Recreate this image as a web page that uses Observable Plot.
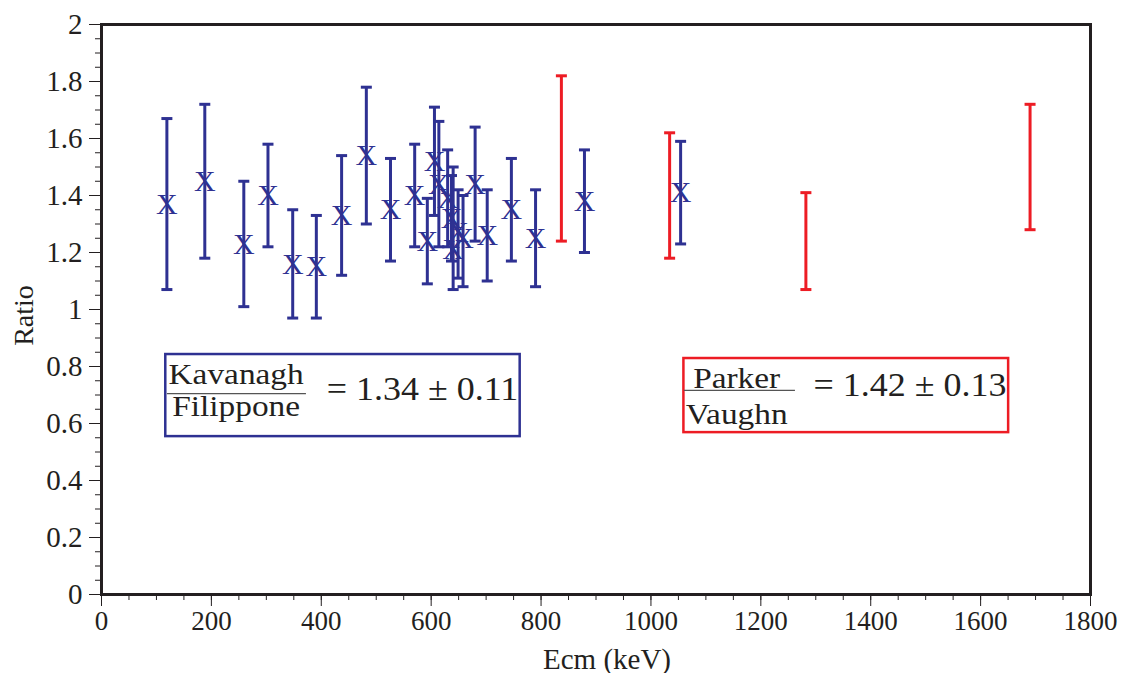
<!DOCTYPE html>
<html>
<head>
<meta charset="utf-8">
<script src="https://cdn.jsdelivr.net/npm/d3@7"></script>
<script src="https://cdn.jsdelivr.net/npm/@observablehq/plot@0.6"></script>
<style>
  html, body { margin: 0; padding: 0; background: #fff; }
  #chart { width: 1123px; height: 673px; }
</style>
</head>
<body>
<div id="chart"></div>
<script>
// Kavanagh / Filippone ratios (blue, with markers)
const kavEcm   = [119, 188, 259, 303, 348, 391, 437, 482, 526, 570, 593, 606, 614, 630, 637, 640, 649, 658, 680, 702, 746, 790, 879, 1054];
const kavRatio = [1.37, 1.45, 1.23, 1.40, 1.16, 1.15, 1.33, 1.54, 1.35, 1.40, 1.24, 1.52, 1.44, 1.39, 1.32, 1.21, 1.27, 1.25, 1.44, 1.26, 1.35, 1.25, 1.38, 1.41];
const kavLow   = [1.07, 1.18, 1.01, 1.22, 0.97, 0.97, 1.12, 1.30, 1.17, 1.22, 1.09, 1.33, 1.22, 1.22, 1.17, 1.07, 1.11, 1.08, 1.24, 1.10, 1.17, 1.08, 1.20, 1.23];
const kavHigh  = [1.67, 1.72, 1.45, 1.58, 1.35, 1.33, 1.54, 1.78, 1.53, 1.58, 1.39, 1.71, 1.66, 1.56, 1.47, 1.50, 1.42, 1.40, 1.64, 1.42, 1.53, 1.42, 1.56, 1.59];

// Parker / Vaughn ratio ranges (red, bars only)
const parEcm  = [837, 1034, 1282, 1690];
const parLow  = [1.24, 1.18, 1.07, 1.28];
const parHigh = [1.82, 1.62, 1.41, 1.72];

// Axis ticks and labels
const xTicks = [0, 200, 400, 600, 800, 1000, 1200, 1400, 1600, 1800];
const xTickLabels = ["0", "200", "400", "600", "800", "1000", "1200", "1400", "1600", "1800"];
const xMinor = d3.range(0, 1801, 50);
const yTicks = [0, 0.2, 0.4, 0.6, 0.8, 1, 1.2, 1.4, 1.6, 1.8, 2];
const yTickLabels = ["0", "0.2", "0.4", "0.6", "0.8", "1", "1.2", "1.4", "1.6", "1.8", "2"];
const yMinor = d3.range(0, 41).map(i => i * 0.05);

// Ratio summaries shown in the boxed notes
const notes = [
  {num: "Kavanagh", den: "Filippone", text: "= 1.34 ± 0.11", color: "#2e3192"},
  {num: "Parker",   den: "Vaughn",    text: "= 1.42 ± 0.13", color: "#ed1c24"}
];

const blue = "#2e3192";
const red = "#ed1c24";
const ink = "#231f20";
const serif = "'Liberation Serif', 'Times New Roman', serif";

const kav = kavEcm.map((e, i) => ({e, r: kavRatio[i], lo: kavLow[i], hi: kavHigh[i]}));
const par = parEcm.map((e, i) => ({e, lo: parLow[i], hi: parHigh[i]}));

// Horizontal cap drawn as a symbol so its width is in pixels
const cap = {
  draw(ctx, size) {
    const h = Math.sqrt(size / Math.PI);
    ctx.moveTo(-h, 0);
    ctx.lineTo(h, 0);
  }
};

// Placement of the two note boxes, in data units
const boxes = [
  {x1: 117, x2: 762, y1: 0.554, y2: 0.842, cx: 245, lineX1: 120, lineX2: 373, lineY: 0.705, numY: 0.740, denY: 0.625, eqX: 410, eqY: 0.681},
  {x1: 1060, x2: 1651, y1: 0.568, y2: 0.828, cx: 1156, lineX1: 1061, lineX2: 1263, lineY: 0.716, numY: 0.726, denY: 0.600, eqX: 1296, eqY: 0.698}
].map((b, i) => ({...b, ...notes[i]}));

const plot = Plot.plot({
  width: 1123,
  height: 673,
  marginLeft: 101,
  marginRight: 33,
  marginTop: 24,
  marginBottom: 79,
  x: {domain: [0, 1800]},
  y: {domain: [0, 2]},
  style: {fontFamily: serif, fontSize: "26px", color: ink, background: "#fff"},
  marks: [
    // minor and major ticks
    Plot.axisX({ticks: xMinor, tickSize: 6, stroke: ink, fill: "none", label: null}),
    Plot.axisX({ticks: xTicks, tickSize: 12, tickPadding: 4, stroke: ink, fill: ink, label: null, fontSize: 27,
      tickFormat: d => xTickLabels[xTicks.indexOf(d)]}),
    Plot.axisY({ticks: yMinor, tickSize: 6, stroke: ink, fill: "none", label: null}),
    Plot.axisY({ticks: yTicks, tickSize: 12, tickPadding: 7, stroke: ink, fill: ink, label: null, fontSize: 29,
      tickFormat: d => yTickLabels[yTicks.findIndex(t => Math.abs(t - d) < 1e-9)]}),
    Plot.text(["Ecm (keV)"], {frameAnchor: "bottom", dy: 74, dx: 11, lineAnchor: "bottom", fontSize: 29, fill: ink}),
    Plot.text(["Ratio"], {frameAnchor: "left", textAnchor: "middle", rotate: -90, dx: -69, dy: 6, lineAnchor: "bottom", fontSize: 28, fill: ink}),

    // Parker / Vaughn bars
    Plot.ruleX(par, {x: "e", y1: "lo", y2: "hi", stroke: red, strokeWidth: 3}),
    Plot.dot(par, {x: "e", y: "lo", symbol: cap, r: 5.5, stroke: red, strokeWidth: 3, fill: "none"}),
    Plot.dot(par, {x: "e", y: "hi", symbol: cap, r: 5.5, stroke: red, strokeWidth: 3, fill: "none"}),

    // Kavanagh / Filippone bars and markers
    Plot.ruleX(kav, {x: "e", y1: "lo", y2: "hi", stroke: blue, strokeWidth: 3}),
    Plot.dot(kav, {x: "e", y: "lo", symbol: cap, r: 5.5, stroke: blue, strokeWidth: 3, fill: "none"}),
    Plot.dot(kav, {x: "e", y: "hi", symbol: cap, r: 5.5, stroke: blue, strokeWidth: 3, fill: "none"}),
    Plot.text(kav, {x: "e", y: "r", text: () => "X", fill: blue, fontSize: 30}),

    // note boxes
    Plot.rect(boxes, {x1: "x1", x2: "x2", y1: "y1", y2: "y2", fill: "#fff", stroke: "color", strokeWidth: 2.5}),
    Plot.ruleY(boxes, {x1: "lineX1", x2: "lineX2", y: "lineY", stroke: "#555", strokeWidth: 1.2}),
    Plot.text(boxes, {x: "cx", y: "numY", text: "num", lineAnchor: "bottom", fontSize: 29, fill: ink, className: "stretch"}),
    Plot.text(boxes, {x: "cx", y: "denY", text: "den", lineAnchor: "bottom", fontSize: 29, fill: ink, className: "stretch"}),
    Plot.text(boxes, {x: "eqX", y: "eqY", text: "text", textAnchor: "start", lineAnchor: "bottom", fontSize: 33, fill: ink, className: "stretch-eq"}),

    Plot.frame({stroke: ink, strokeWidth: 3})
  ]
});

document.getElementById("chart").appendChild(plot);

// widen the note lettering a little, as set in the original typography
function widen(selector, factor) {
  d3.select(plot).selectAll(selector).each(function() {
    const len = this.getComputedTextLength();
    this.setAttribute("textLength", len * factor);
    this.setAttribute("lengthAdjust", "spacingAndGlyphs");
  });
}
widen("g.stretch text", 1.15);
widen("g.stretch-eq text", 1.09);
</script>
</body>
</html>
